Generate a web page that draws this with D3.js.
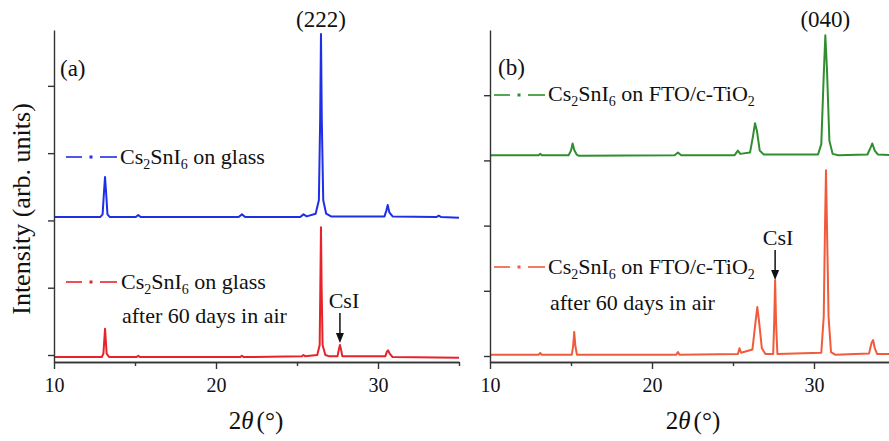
<!DOCTYPE html>
<html><head><meta charset="utf-8">
<script src="https://cdn.jsdelivr.net/npm/d3@7"></script>
<style>
html,body{margin:0;padding:0;background:#fff;}
svg text{font-family:"Liberation Serif","Tinos","Times New Roman","DejaVu Serif",serif;fill:#111;}
</style></head>
<body><svg id="chart" width="889" height="441"></svg>
<script>
// ---- data ----
const xDomain = [10, 35];
const xMajorTicks = [10, 20, 30];
const xMinorTicks = [15, 25, 35];
const yTicks = [0, 1, 2, 3, 4];
const yDomainA = [-0.104, 4.83];
const yDomainB = [-0.092, 5.0];

// panel (a): Cs2SnI6 on glass (offset trace)
const glassFresh = [[10,2.05],[12.85,2.05],[13.0,2.09],[13.08,2.4],[13.15,2.645],[13.22,2.4],[13.3,2.09],[13.45,2.05],[15.05,2.05],[15.2,2.08],[15.35,2.05],[21.4,2.05],[21.6,2.09],[21.8,2.05],[25.2,2.05],[25.4,2.09],[25.6,2.06],[26.15,2.1],[26.35,2.3],[26.43,3.5],[26.48,4.77],[26.53,3.5],[26.62,2.3],[26.8,2.1],[27.1,2.06],[30.4,2.06],[30.52,2.15],[30.6,2.23],[30.7,2.12],[30.9,2.06],[33.6,2.05],[33.75,2.07],[33.9,2.05],[35,2.04]];
// panel (a): Cs2SnI6 on glass after 60 days in air
const glassAged = [[10,-0.03],[12.95,-0.03],[13.05,0.02],[13.15,0.39],[13.25,0.02],[13.4,-0.03],[15.1,-0.03],[15.2,-0.01],[15.3,-0.03],[21.5,-0.03],[21.6,-0.01],[21.7,-0.03],[25.3,-0.02],[25.4,0.0],[25.5,-0.02],[26.25,0.0],[26.4,0.15],[26.44,1.0],[26.48,1.9],[26.52,1.0],[26.58,0.15],[26.75,0.0],[27.0,-0.02],[27.5,-0.02],[27.58,0.08],[27.65,0.15],[27.72,0.08],[27.8,-0.02],[30.45,-0.02],[30.55,0.05],[30.62,0.07],[30.72,0.02],[30.9,-0.03],[35,-0.04]];
// panel (b): Cs2SnI6 on FTO/c-TiO2 (offset trace)
const ftoFresh = [[10,3.08],[13.0,3.08],[13.1,3.1],[13.2,3.08],[14.85,3.08],[15.0,3.15],[15.1,3.26],[15.2,3.16],[15.35,3.09],[15.5,3.07],[21.4,3.08],[21.6,3.12],[21.8,3.08],[25.1,3.08],[25.3,3.15],[25.45,3.1],[26.05,3.12],[26.22,3.35],[26.36,3.57],[26.48,3.45],[26.65,3.15],[26.9,3.09],[30.25,3.09],[30.45,3.25],[30.6,4.3],[30.7,4.92],[30.8,4.4],[30.95,3.3],[31.15,3.1],[31.5,3.08],[33.3,3.09],[33.5,3.2],[33.6,3.26],[33.75,3.15],[33.95,3.09],[35,3.08]];
// panel (b): Cs2SnI6 on FTO/c-TiO2 after 60 days in air
const ftoAged = [[10,0.02],[13.0,0.02],[13.1,0.045],[13.2,0.02],[15.05,0.02],[15.13,0.15],[15.2,0.37],[15.27,0.15],[15.37,0.02],[21.5,0.02],[21.6,0.06],[21.7,0.02],[25.3,0.03],[25.4,0.12],[25.5,0.05],[26.2,0.1],[26.38,0.5],[26.5,0.75],[26.6,0.55],[26.78,0.12],[27.0,0.03],[27.48,0.03],[27.54,0.5],[27.6,1.16],[27.66,0.5],[27.74,0.03],[30.45,0.05],[30.6,0.6],[30.68,2.0],[30.74,2.85],[30.8,2.0],[30.9,0.6],[31.05,0.06],[31.3,0.02],[33.4,0.04],[33.55,0.2],[33.65,0.245],[33.75,0.12],[33.9,0.03],[34.8,0.03],[34.9,0.06],[35,0.03]];

const colors = {blue:"#1f2fe6", red:"#e8222a", green:"#2f8f2f", orange:"#f25a3c"};

// ---- drawing ----
const svg = d3.select("#chart");
const axisColor = "#333";

function panel(cfg){
  const x = d3.scaleLinear().domain(xDomain).range([cfg.left, cfg.right]);
  const y = d3.scaleLinear().domain(cfg.yDomain).range([362, 30]);
  const g = svg.append("g");
  const line = d3.line().x(d=>x(d[0])).y(d=>y(d[1]));
  cfg.series.forEach(s=>{
    g.append("path").attr("d", line(s.data)).attr("fill","none")
     .attr("stroke", s.color).attr("stroke-width",2).attr("stroke-linejoin","round");
  });
  const ya = g.append("g").attr("transform",`translate(${cfg.left},0)`)
    .call(d3.axisLeft(y).tickValues(yTicks).tickFormat("").tickSize(6).tickSizeOuter(0));
  const xa = g.append("g").attr("transform","translate(0,362)")
    .call(d3.axisBottom(x).tickValues(xMajorTicks).tickSize(7).tickSizeOuter(0).tickPadding(6));
  const xm = g.append("g").attr("transform","translate(0,362)")
    .call(d3.axisBottom(x).tickValues(xMinorTicks).tickSize(4).tickSizeOuter(0).tickFormat(""));
  [ya,xa,xm].forEach(a=>{
    a.attr("font-family",null);
    a.selectAll("path,line").attr("stroke",axisColor).attr("stroke-width",1.4);
    a.selectAll("text").attr("font-size",20).attr("fill","#111");
  });
  xa.selectAll("text").attr("dy",null).attr("y",30);
  const t = g.append("text").attr("x", cfg.titleX).attr("y",429).attr("text-anchor","middle").attr("font-size",25);
  t.append("tspan").text("2");
  t.append("tspan").attr("font-style","italic").text("θ");
  t.append("tspan").attr("dx",3).text("(°)");
  return {x,y,g};
}

function compound(g, xPos, yPos, rest, sub2){
  const t = g.append("text").attr("x",xPos).attr("y",yPos).attr("font-size",22);
  t.append("tspan").text("Cs");
  t.append("tspan").attr("font-size",14).attr("dy",5).text("2");
  t.append("tspan").attr("dy",-5).text("SnI");
  t.append("tspan").attr("font-size",14).attr("dy",5).text("6");
  t.append("tspan").attr("dy",-5).text(rest);
  if (sub2) t.append("tspan").attr("font-size",14).attr("dy",5).text("2");
}
function legendLine(g, x0, yPos, color){
  g.append("line").attr("x1",x0).attr("x2",x0+16).attr("y1",yPos).attr("y2",yPos).attr("stroke",color).attr("stroke-width",1.6);
  g.append("rect").attr("x",x0+23.5).attr("y",yPos-1.5).attr("width",3).attr("height",3).attr("fill",color);
  g.append("line").attr("x1",x0+34).attr("x2",x0+51).attr("y1",yPos).attr("y2",yPos).attr("stroke",color).attr("stroke-width",1.6);
}
function arrow(g, xPos, y1, y2){
  g.append("line").attr("x1",xPos).attr("x2",xPos).attr("y1",y1).attr("y2",y2-8).attr("stroke","#111").attr("stroke-width",1.5);
  g.append("path").attr("d",`M${xPos-4},${y2-10}L${xPos+4},${y2-10}L${xPos},${y2}Z`).attr("fill","#111");
}

// panel (a)
const A = panel({left:54, right:459, yDomain:yDomainA, titleX:256,
  series:[{data:glassFresh,color:colors.blue},{data:glassAged,color:colors.red}]});
A.g.append("text").attr("x",60).attr("y",76).attr("font-size",23).text("(a)");
A.g.append("text").attr("x",A.x(26.48)).attr("y",27).attr("text-anchor","middle").attr("font-size",23).text("(222)");
legendLine(A.g, 66, 157, colors.blue);
compound(A.g, 120, 164, " on glass", false);
legendLine(A.g, 66, 282, colors.red);
compound(A.g, 121, 289, " on glass", false);
A.g.append("text").attr("x",122).attr("y",323).attr("font-size",22).text("after 60 days in air");
A.g.append("text").attr("x",A.x(27.65)+4).attr("y",308).attr("text-anchor","middle").attr("font-size",22).text("CsI");
arrow(A.g, A.x(27.65), 313, 343);

// panel (b)
const B = panel({left:490, right:895, yDomain:yDomainB, titleX:693,
  series:[{data:ftoFresh,color:colors.green},{data:ftoAged,color:colors.orange}]});
B.g.append("text").attr("x",498).attr("y",75).attr("font-size",23).text("(b)");
B.g.append("text").attr("x",B.x(30.7)).attr("y",27).attr("text-anchor","middle").attr("font-size",23).text("(040)");
legendLine(B.g, 494, 95, colors.green);
compound(B.g, 548, 101, " on FTO/c-TiO", true);
legendLine(B.g, 494, 267, colors.orange);
compound(B.g, 548, 274, " on FTO/c-TiO", true);
B.g.append("text").attr("x",550).attr("y",310).attr("font-size",22).text("after 60 days in air");
B.g.append("text").attr("x",B.x(27.6)+3).attr("y",245).attr("text-anchor","middle").attr("font-size",22).text("CsI");
arrow(B.g, B.x(27.6), 250, 280);

// y title
svg.append("text").attr("transform","translate(30,209) rotate(-90)").attr("text-anchor","middle")
  .attr("font-size",26).text("Intensity (arb. units)");
</script></body></html>
